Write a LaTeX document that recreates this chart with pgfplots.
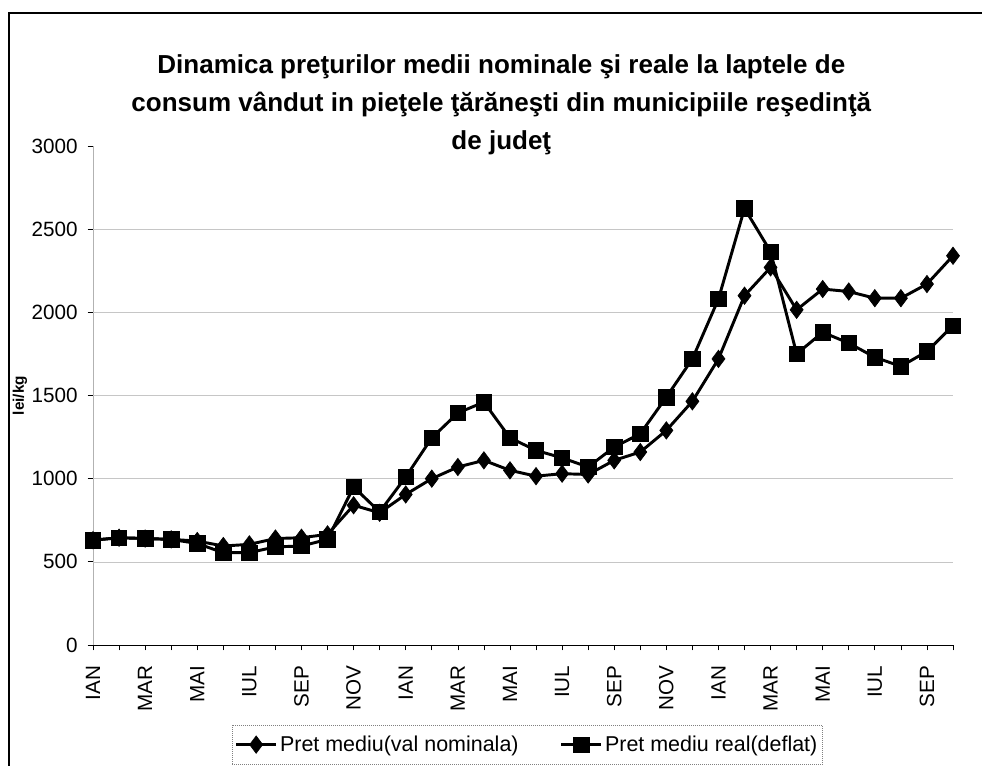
\documentclass[border=0pt]{standalone}
\usepackage{fontspec}
\setmainfont{Liberation Sans}
\usepackage{pgfplots}
\pgfplotsset{compat=1.18}
\begin{document}
\begin{tikzpicture}
\useasboundingbox (0pt,0pt) rectangle (736.5pt,574.5pt);
\draw[line width=1.8pt] (6.75pt,-2pt) -- (6.75pt,564.75pt) -- (740pt,564.75pt);
\node[anchor=north, align=center, inner sep=0pt, font=\fontsize{19.5}{28.5}\selectfont\bfseries] at (376pt,534pt)
{Dinamica preţurilor medii nominale şi reale la laptele de\\consum vândut in pieţele ţărăneşti din municipiile reşedinţă\\de judeţ};
\begin{axis}[
  at={(69.75pt,90.75pt)}, anchor=south west,
  scale only axis, width=645pt, height=374.25pt,
  xmin=0, xmax=33, ymin=0, ymax=3000,
  axis x line*=bottom, axis y line*=left,
  x axis line style={black, line width=0.6pt, -},
  y axis line style={gray!60, line width=0.5pt, -},
  xtick={0,...,33},
  xticklabels={IAN,,MAR,,MAI,,IUL,,SEP,,NOV,,IAN,,MAR,,MAI,,IUL,,SEP,,NOV,,IAN,,MAR,,MAI,,IUL,,SEP,},
  ytick={0,500,...,3000},
  ymajorgrids=false,
  extra y ticks={500,1000,1500,2000,2500},
  extra y tick labels={},
  extra y tick style={grid=major, major tick length=0pt},
  tick align=outside,
  major tick length=4pt,
  tick style={black, line width=0.5pt, solid},
  grid style={gray!45, line width=0.4pt},
  /pgf/number format/assume math mode=true,
  /pgf/number format/set thousands separator={},
  ticklabel style={font=\fontsize{15.5}{18}\selectfont},
  xticklabel style={rotate=90, anchor=east, xshift=-8pt},
  yticklabel style={xshift=-4pt},
  ylabel={lei/kg},
  ylabel style={font=\fontsize{11.5}{13}\selectfont\bfseries, at={(axis description cs:-0.085,0.5)}, anchor=center},
  legend columns=2,
  legend style={at={(axis description cs:0.1616,-0.160)}, anchor=north west,
    draw=gray, densely dotted, line width=0.5pt,
    font=\fontsize{16.1}{18}\selectfont, inner xsep=2pt, inner ysep=6pt,
    /tikz/every even column/.append style={column sep=29pt}},
  legend image code/.code={
    \draw[mark repeat=2,mark phase=2,#1] plot coordinates {(0cm,0cm) (0.52cm,0cm) (1.04cm,0cm)};
  },
]
\addplot[black, line width=2.2pt, mark=diamond*, mark size=6.5pt, mark options={solid, fill=black, line width=0.5pt}]
coordinates {
(0,630) (1,645) (2,640) (3,635) (4,625) (5,595) (6,605) (7,640) (8,645) (9,665)
(10,840) (11,795) (12,905) (13,1000) (14,1070) (15,1110) (16,1050) (17,1015) (18,1030) (19,1025)
(20,1110) (21,1160) (22,1290) (23,1465) (24,1720) (25,2100) (26,2270) (27,2015) (28,2140) (29,2125)
(30,2085) (31,2085) (32,2170) (33,2340)
};
\addlegendentry{Pret mediu(val nominala)}
\addplot[black, line width=2.2pt, mark=square*, mark size=5.8pt, mark options={solid, fill=black, line width=0.5pt}]
coordinates {
(0,630) (1,645) (2,640) (3,635) (4,610) (5,555) (6,555) (7,590) (8,595) (9,635)
(10,950) (11,800) (12,1010) (13,1245) (14,1395) (15,1460) (16,1245) (17,1170) (18,1125) (19,1070)
(20,1190) (21,1270) (22,1490) (23,1720) (24,2080) (25,2625) (26,2365) (27,1750) (28,1880) (29,1815)
(30,1730) (31,1675) (32,1765) (33,1920)
};
\addlegendentry{Pret mediu real(deflat)}
\end{axis}
\end{tikzpicture}
\end{document}
